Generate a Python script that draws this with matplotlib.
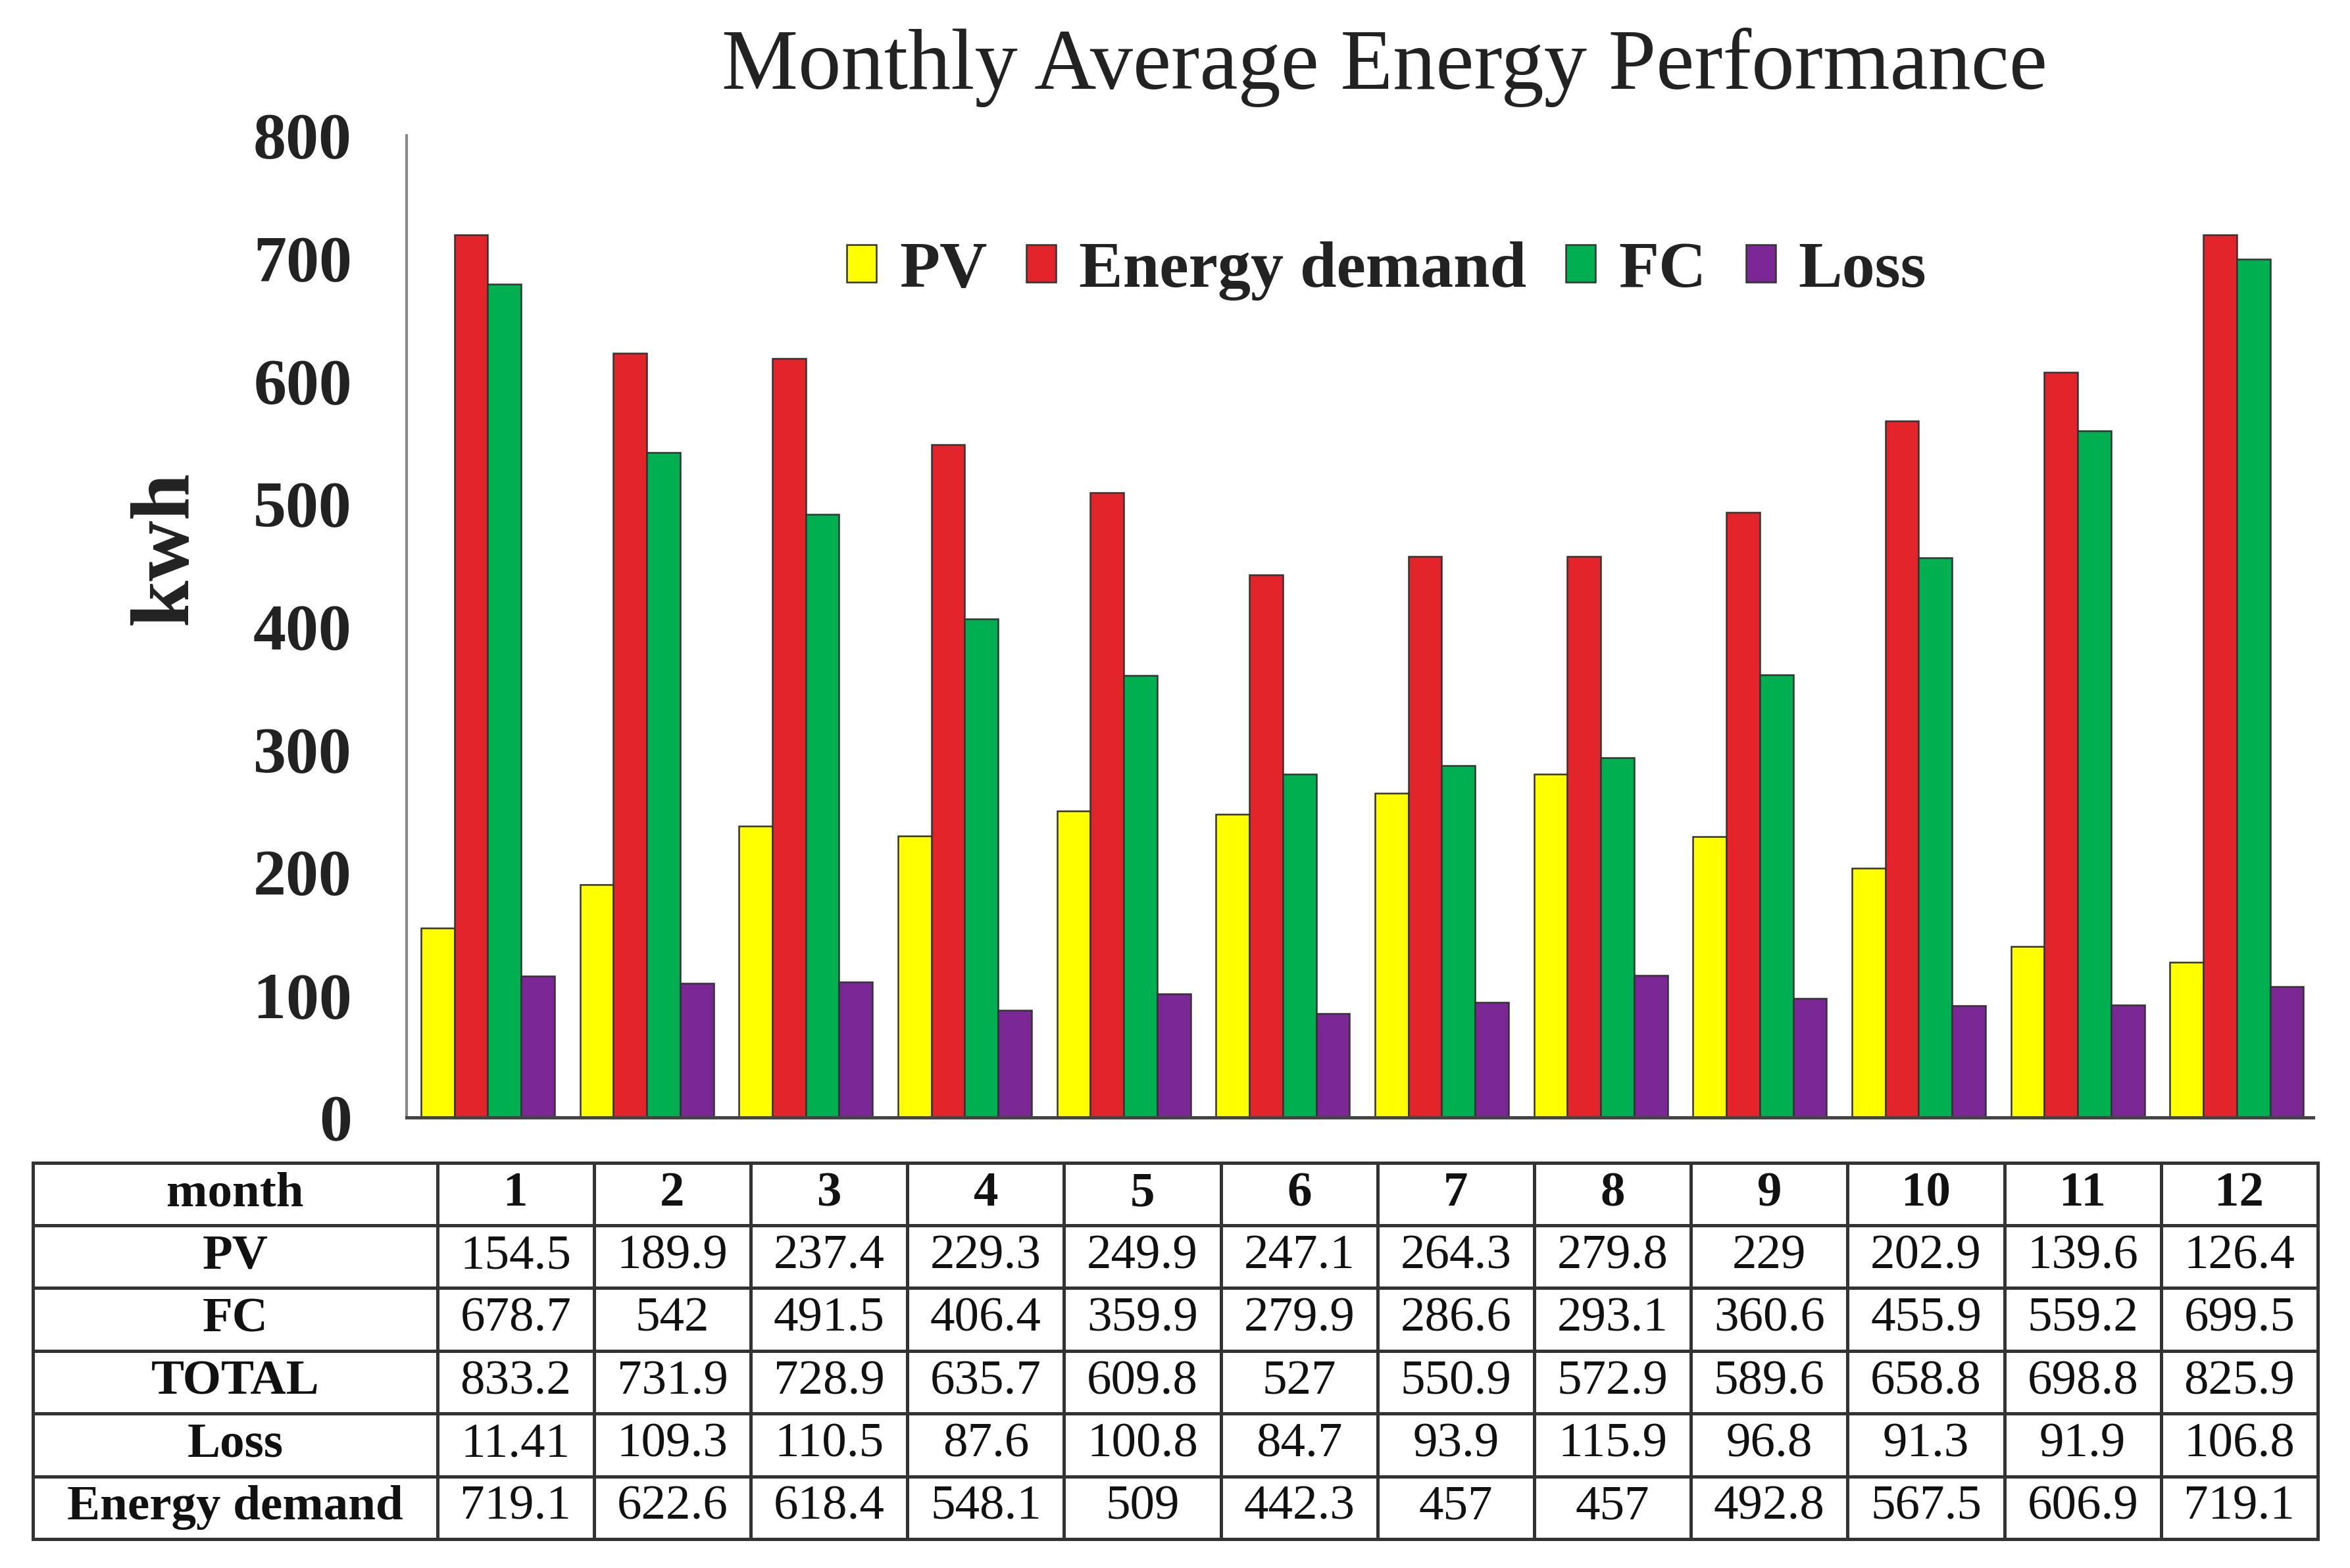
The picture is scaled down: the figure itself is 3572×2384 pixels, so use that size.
import matplotlib
matplotlib.use("Agg")
import matplotlib.pyplot as plt
import numpy as np

# ---- data ----
months = [1, 2, 3, 4, 5, 6, 7, 8, 9, 10, 11, 12]
pv = [154.5, 189.9, 237.4, 229.3, 249.9, 247.1, 264.3, 279.8, 229, 202.9, 139.6, 126.4]
fc = [678.7, 542, 491.5, 406.4, 359.9, 279.9, 286.6, 293.1, 360.6, 455.9, 559.2, 699.5]
total = [833.2, 731.9, 728.9, 635.7, 609.8, 527, 550.9, 572.9, 589.6, 658.8, 698.8, 825.9]
energy_demand = [719.1, 622.6, 618.4, 548.1, 509, 442.3, 457, 457, 492.8, 567.5, 606.9, 719.1]
# Loss bars as drawn (Jan bar ~115 although table reads 11.41)
loss_bars = [115, 109.3, 110.5, 87.6, 100.8, 84.7, 93.9, 115.9, 96.8, 91.3, 91.9, 106.8]
loss_table = ["11.41", "109.3", "110.5", "87.6", "100.8", "84.7", "93.9", "115.9", "96.8", "91.3", "91.9", "106.8"]
series_names = ["PV", "Energy demand", "FC", "Loss"]
row_labels = ["month", "PV", "FC", "TOTAL", "Loss", "Energy demand"]
yticks = [0, 100, 200, 300, 400, 500, 600, 700, 800]

colors = ["#FFFF00", "#E3242B", "#00B050", "#7B2896"]

def fmt(v):
    return ("%g" % v)

plt.rcParams['font.family'] = ['Liberation Serif', 'DejaVu Serif']

fig = plt.figure(figsize=(3573 / 200, 2384 / 200), dpi=200)
fig.patch.set_facecolor("white")

ax = fig.add_axes([0.173, 0.2873, 0.811, 0.6263])
x = np.arange(len(months))
w = 0.21
series = [pv, energy_demand, fc, loss_bars]
for i, (vals, name, c) in enumerate(zip(series, series_names, colors)):
    ax.bar(x + (i - 1.5) * w, vals, width=w, color=c, edgecolor="#333333",
           linewidth=0.9, label=name)

ax.set_xlim(-0.51, 11.48)
ax.set_ylim(0, 800)
ax.set_yticks(yticks)
ax.set_yticklabels([str(t) for t in yticks], fontsize=36, fontweight="bold", color="#222222")
ax.set_xticks([])
ax.tick_params(axis="y", length=0, pad=30)
for s in ["top", "right"]:
    ax.spines[s].set_visible(False)
ax.spines["left"].set_color("#888888")
ax.spines["left"].set_linewidth(1.5)
ax.spines["bottom"].set_color("#444444")
ax.spines["bottom"].set_linewidth(1.8)

ax.set_ylabel("kwh", fontsize=46, fontweight="bold", color="#222222")
ax.yaxis.set_label_coords(-0.106, 0.58)

leg = ax.legend(loc="center", bbox_to_anchor=(0.514, 0.862), ncol=4, frameon=False,
                prop={"size": 36, "weight": "bold"}, handlelength=0.45, handleheight=0.5,
                handletextpad=0.35, columnspacing=0.6)
for t in leg.get_texts():
    t.set_color("#222222")

fig.text(0.589, 0.957, "Monthly Average Energy Performance", fontsize=47,
         ha="center", va="center", color="#222222")

# ---- table ----
axt = fig.add_axes([0.014, 0.0185, 0.972, 0.240])
axt.axis("off")
cell_text = [
    ["month"] + [str(m) for m in months],
    ["PV"] + [fmt(v) for v in pv],
    ["FC"] + [fmt(v) for v in fc],
    ["TOTAL"] + [fmt(v) for v in total],
    ["Loss"] + loss_table,
    ["Energy demand"] + [fmt(v) for v in energy_demand],
]
first = 0.177
colw = [first] + [(1 - first) / 12] * 12
tbl = axt.table(cellText=cell_text, colWidths=colw, cellLoc="center", bbox=[0, 0, 1, 1])
tbl.auto_set_font_size(False)
for (r, c), cell in tbl.get_celld().items():
    cell.set_edgecolor("#333333")
    cell.set_linewidth(1.8)
    cell.set_facecolor("white")
    txt = cell.get_text()
    txt.set_fontsize(27)
    txt.set_color("#111111")
    if r == 0 or c == 0:
        txt.set_fontweight("bold")

fig.savefig("out.png", dpi=200, facecolor="white")
